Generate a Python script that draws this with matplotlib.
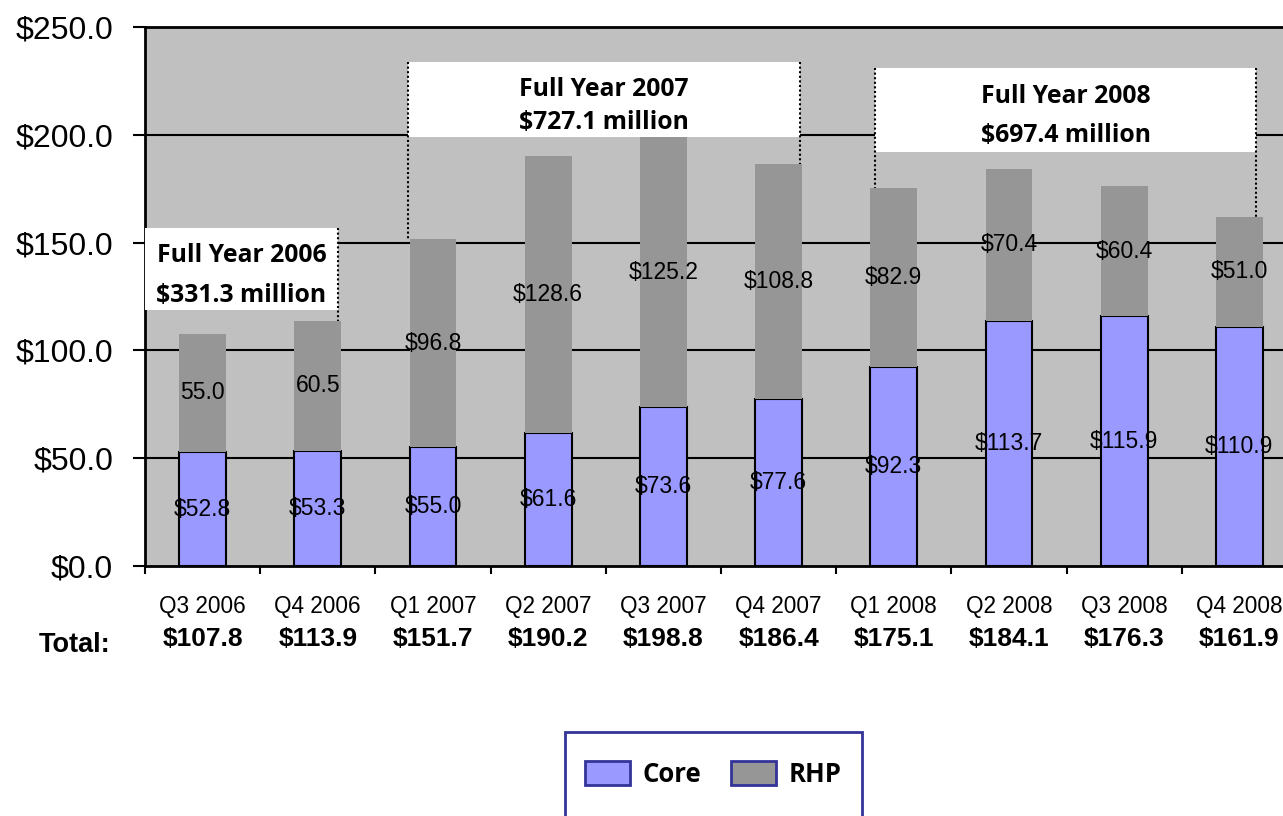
import matplotlib
matplotlib.use("Agg")
import matplotlib.pyplot as plt
from matplotlib.patches import Patch, Rectangle
from matplotlib.transforms import blended_transform_factory
import numpy as np

plt.rcParams['font.family'] = ['Liberation Sans', 'DejaVu Sans']

quarters = ["Q3 2006", "Q4 2006", "Q1 2007", "Q2 2007", "Q3 2007",
            "Q4 2007", "Q1 2008", "Q2 2008", "Q3 2008", "Q4 2008"]
core = [52.8, 53.3, 55.0, 61.6, 73.6, 77.6, 92.3, 113.7, 115.9, 110.9]
rhp = [55.0, 60.5, 96.8, 128.6, 125.2, 108.8, 82.9, 70.4, 60.4, 51.0]
core_labels = ["$52.8", "$53.3", "$55.0", "$61.6", "$73.6", "$77.6",
               "$92.3", "$113.7", "$115.9", "$110.9"]
rhp_labels = ["55.0", "60.5", "$96.8", "$128.6", "$125.2", "$108.8",
              "$82.9", "$70.4", "$60.4", "$51.0"]
totals = ["$107.8", "$113.9", "$151.7", "$190.2", "$198.8", "$186.4",
          "$175.1", "$184.1", "$176.3", "$161.9"]
yticks = [0, 50, 100, 150, 200, 250]
ytick_labels = ["$0.0", "$50.0", "$100.0", "$150.0", "$200.0", "$250.0"]
year_titles = ["Full Year 2006", "Full Year 2007", "Full Year 2008"]
year_totals = ["$331.3 million", "$727.1 million", "$697.4 million"]

CORE_C = "#9999FF"
RHP_C = "#969696"
BG = "#C0C0C0"

W, H = 1283, 816
fig = plt.figure(figsize=(W / 100, H / 100), dpi=100)
ax = fig.add_axes([145 / W, 1 - 566 / H, 1152 / W, 539 / H])
ax.set_facecolor(BG)

x = np.arange(len(quarters))
bw = 0.405
ax.bar(x, core, bw, color=CORE_C, edgecolor="black", linewidth=1.5, zorder=3)
ax.bar(x, rhp, bw, bottom=core, color=RHP_C, edgecolor="none", zorder=3)

ax.set_xlim(-0.5, len(quarters) - 0.5)
ax.set_ylim(0, 250)
ax.set_yticks(yticks)
ax.set_yticklabels(ytick_labels, fontsize=23)
ax.tick_params(axis="y", length=9, width=1.5, pad=14)
for v in yticks[1:-1]:
    ax.axhline(v, color="black", lw=1.5, zorder=1)

ax.set_xticks(x)
ax.set_xticklabels([])
ax.tick_params(axis="x", which="major", length=0)
ax.set_xticks(np.arange(len(quarters) + 1) - 0.5, minor=True)
ax.tick_params(axis="x", which="minor", length=6, width=1.5)
for s in ax.spines.values():
    s.set_linewidth(2)
    s.set_color("black")

# value labels
for i in range(len(quarters)):
    ax.text(x[i], core[i] / 2, core_labels[i], ha="center", va="center",
            fontsize=16.5, zorder=5)
    ax.text(x[i], core[i] + rhp[i] / 2, rhp_labels[i], ha="center",
            va="center", fontsize=16.5, zorder=5)

# category and total labels
tr = blended_transform_factory(ax.transData, ax.transAxes)
for i in range(len(quarters)):
    ax.text(x[i], -41 / 539, quarters[i], transform=tr, ha="center",
            va="center", fontsize=16.3, clip_on=False)
    ax.text(x[i], -73 / 539, totals[i], transform=tr, ha="center",
            va="center", fontsize=19, fontweight="bold", clip_on=False)
fig.text(75 / W, 1 - 645 / H, "Total:", ha="center", va="center",
         fontsize=19.5, fontweight="bold")

# year boxes
tot = [c + r for c, r in zip(core, rhp)]
boxes = [(-0.5, 1.175, 118.7, 156.8, [None, 1], 0.335, 0.823),
         (1.783, 5.186, 199.0, 233.8, [2, 5], 0.367, 0.807),
         (5.837, 9.144, 192.0, 231.0, [6, 9], 0.339, 0.804)]
for k, (x0, x1, y0, y1, ends, f1, f2) in enumerate(boxes):
    ax.add_patch(Rectangle((x0, y0), x1 - x0, y1 - y0, facecolor="white",
                           edgecolor="none", zorder=6))
    for xe, idx in zip((x0, x1), ends):
        if idx is None:
            continue
        ax.plot([xe, xe], [y1, tot[idx]], color="black", lw=1.5,
                linestyle=(0, (1, 1.2)), zorder=7)
    xc = (x0 + x1) / 2
    h = y1 - y0
    ax.text(xc, y1 - h * f1, year_titles[k], ha="center", va="center",
            fontsize=17.8, fontweight="bold", family="Open Sans", zorder=8)
    ax.text(xc, y1 - h * f2, year_totals[k], ha="center", va="center",
            fontsize=17.8, fontweight="bold", family="Open Sans", zorder=8)

# legend (frame drawn separately; it runs off the bottom of the figure)
fig.patches.append(Rectangle((565 / W, 1 - 840 / H), 297 / W, 108 / H,
                             transform=fig.transFigure, facecolor="white",
                             edgecolor="#333399", linewidth=2, zorder=0))
handles = [Patch(facecolor=CORE_C, edgecolor="#333399", linewidth=2),
           Patch(facecolor=RHP_C, edgecolor="#333399", linewidth=2)]
leg = fig.legend(handles, ["Core", "RHP"], loc="center",
                 bbox_to_anchor=(713.5 / W, 1 - 774 / H), ncol=2,
                 prop={"family": "Open Sans", "weight": "bold", "size": 18.5},
                 handlelength=1.74, handleheight=1.05, handletextpad=0.5,
                 columnspacing=1.15, borderpad=0.2, borderaxespad=0,
                 frameon=False)

fig.savefig("out.png", dpi=100)
